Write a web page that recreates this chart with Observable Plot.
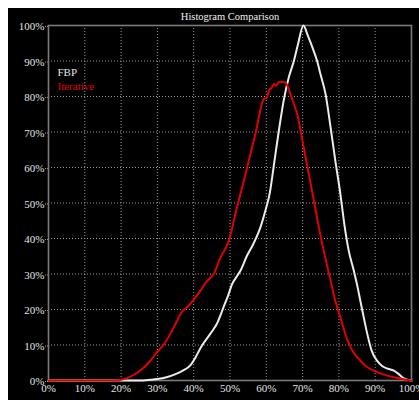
<!DOCTYPE html>
<html>
<head>
<meta charset="utf-8">
<script src="https://cdn.jsdelivr.net/npm/d3@7"></script>
<script src="https://cdn.jsdelivr.net/npm/@observablehq/plot@0.6"></script>
<style>
  html, body { background: #fff; }
  body { margin: 8px 0 0 8px; overflow: hidden; }
  #chart svg { display: block; max-width: none !important; }
</style>
</head>
<body>
<div id="chart"></div>
<script>
const titleText = "Histogram Comparison";
const seriesNames = ["FBP", "Iterative"];
const tickValues = [0, 10, 20, 30, 40, 50, 60, 70, 80, 90, 100];
const gridValues = [10, 20, 30, 40, 50, 60, 70, 80, 90];

const fbpX = [0, 25, 28, 30, 32.5, 35, 37, 39, 40.5, 42, 44.6, 46.5, 48.2, 49.5, 50.6, 52, 52.9, 54.7, 56.5, 58.4, 59.8, 61, 62, 63.4, 64.8, 66.2, 67.6, 68.8, 70.2, 71.5, 73, 74, 74.9, 76.3, 77.7, 79, 80.4, 81.5, 82.7, 84.1, 85, 85.9, 87, 87.8, 89, 90.5, 92, 93.5, 95.1, 96.5, 97.9, 100];
const fbpY = [0, 0, 0.2, 0.4, 0.9, 1.8, 2.8, 4.2, 6.5, 9.4, 13.2, 16.2, 20.6, 24, 27.2, 29.5, 31, 35.2, 38.6, 43.2, 48, 53, 60, 70, 78.9, 85.4, 90, 95, 100, 97, 93, 90, 86.4, 80.8, 71.4, 62, 52.6, 44, 36.6, 31, 27, 22.5, 17, 13.2, 8.5, 5.6, 4, 3.3, 2.8, 1.8, 0.6, 0];

const iterX = [0, 19, 20, 22, 25.3, 28, 29.9, 32, 33.6, 35, 36.4, 39.1, 41.9, 43.5, 45.5, 47.4, 49.7, 51.5, 52.4, 53.5, 54.7, 57, 59.3, 60.2, 60.7, 61.5, 62.1, 62.7, 63.4, 64.8, 65.8, 66.7, 67.6, 68.5, 70.3, 71.7, 73.1, 74.5, 75.8, 77.7, 79, 80.4, 81.8, 83.2, 84.5, 85.9, 87.5, 89.6, 92, 95.1, 97.5, 100];
const iterY = [0, 0, 0.2, 0.8, 2.8, 5.5, 8, 10.5, 13.2, 16, 18.8, 21.6, 25.4, 27.8, 30, 34.7, 39.4, 47, 50.7, 55, 60, 69.5, 79.3, 79.8, 81.7, 82.5, 83.5, 83, 84.1, 84.1, 83.1, 80.5, 77.9, 75.1, 65.7, 58.2, 50.7, 43, 36.6, 28.2, 22.5, 17.8, 13, 9.4, 7.2, 5.6, 4, 2.8, 1.8, 0.9, 0.4, 0];

const fbp = fbpX.map((x, i) => ({x, y: fbpY[i]}));
const iter = iterX.map((x, i) => ({x, y: iterY[i]}));

const serif = "Liberation Serif";
const fmt = d => d + "%";
const gridStyle = {stroke: "#9a9a9a", strokeOpacity: 1, strokeDasharray: "1,2", strokeWidth: 1};

const chart = Plot.plot({
  width: 411,
  height: 392,
  marginLeft: 40,
  marginRight: 8,
  marginTop: 17,
  marginBottom: 20,
  style: "background: #000; color: #ddd; font-family: 'Liberation Serif', serif; font-size: 11px; overflow: hidden; max-width: none;",
  x: {domain: [0, 100]},
  y: {domain: [0, 100]},
  marks: [
    Plot.gridX(gridValues, gridStyle),
    Plot.gridY(gridValues, gridStyle),
    Plot.axisY(tickValues, {tickSize: 3, tickPadding: 1, tickFormat: fmt, label: null, fill: "#e4e4e4", stroke: "#9a9a9a", strokeDasharray: "1,1", fontSize: 11, fontFamily: serif, dy: 1}),
    Plot.axisX(tickValues, {tickSize: 0, tickPadding: 4, tickFormat: fmt, label: null, fill: "#e4e4e4", fontSize: 11, fontFamily: serif}),
    Plot.frame({stroke: "#7a7a7a", strokeWidth: 1.6}),
    Plot.line(fbp, {x: "x", y: "y", stroke: "#ececec", strokeWidth: 2, curve: "monotone-x"}),
    Plot.line(iter, {x: "x", y: "y", stroke: "#e00000", strokeWidth: 2, curve: "monotone-x"}),
    Plot.text([titleText], {frameAnchor: "top", lineAnchor: "middle", dy: -9, fill: "#f0f0f0", fontSize: 10.5, fontFamily: serif}),
    Plot.text([seriesNames[0]], {frameAnchor: "top-left", lineAnchor: "middle", dx: 9, dy: 47, textAnchor: "start", fill: "#e4e4e4", fontSize: 11, fontFamily: serif}),
    Plot.text([seriesNames[1]], {frameAnchor: "top-left", lineAnchor: "middle", dx: 9, dy: 61, textAnchor: "start", fill: "#e00000", fontSize: 11, fontFamily: serif})
  ]
});
document.getElementById("chart").appendChild(chart);
</script>
</body>
</html>
